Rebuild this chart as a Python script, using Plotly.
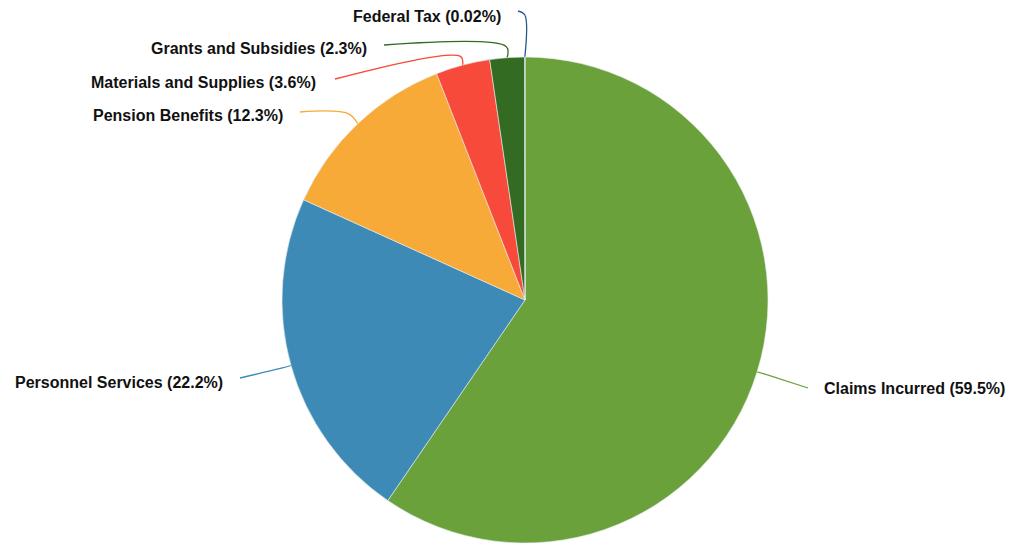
import math
import plotly.graph_objects as go

# page is 1015x544 but the body has an 8px margin, so work in page pixels
W, H = 1015, 544
OFF = 8
FW, FH = W - OFF, H - OFF

# Data
categories = [
    "Claims Incurred",
    "Personnel Services",
    "Pension Benefits",
    "Materials and Supplies",
    "Grants and Subsidies",
    "Federal Tax",
]
shares = [59.5, 22.2, 12.3, 3.6, 2.3, 0.02]
colors = ["#6aa13a", "#3d8ab6", "#f7aa38", "#f74a3a", "#346b22", "#2a5a8c"]

# label placement (page pixels) and leader line ends
label_pos = [(822, 388), (225, 382), (285, 115), (318, 82), (369, 48), (503, 16)]
label_side = ["left", "right", "right", "right", "right", "right"]
line_end = [(808, 388), (240, 378), (300, 112), (335, 79), (384, 45), (518, 11)]
leader_ext = [14, 10, 14, 9, 11, 42]

# pie geometry in page pixels
CX, CY, R = 525, 300, 243

fig = go.Figure()

fig.add_trace(
    go.Pie(
        labels=categories,
        values=shares,
        sort=False,
        direction="clockwise",
        rotation=0,
        textinfo="none",
        hoverinfo="label+percent",
        marker=dict(colors=colors, line=dict(color="#e8eef2", width=0.6)),
        domain=dict(
            x=[(CX - R - OFF) / FW, (CX + R - OFF) / FW],
            y=[(H - CY - R) / FH, (H - CY + R) / FH],
        ),
        showlegend=False,
    )
)

# leader lines start at each slice's mid angle
total = sum(shares)
cum = 0.0
for i, (name, v) in enumerate(zip(categories, shares)):
    mid = (cum + v / 2) / total * 2 * math.pi
    cum += v
    dx, dy = math.sin(mid), -math.cos(mid)
    x0, y0 = CX + R * dx, CY + R * dy
    x1, y1 = CX + (R + leader_ext[i]) * dx, CY + (R + leader_ext[i]) * dy
    ex, ey = line_end[i]
    fig.add_trace(
        go.Scatter(
            x=[x0, x1, ex],
            y=[y0, y1, ey],
            mode="lines",
            line=dict(color=colors[i], width=1.3, shape="spline", smoothing=1.0),
            hoverinfo="skip",
            showlegend=False,
        )
    )
    lx, ly = label_pos[i]
    fig.add_annotation(
        x=lx,
        y=ly,
        xref="x",
        yref="y",
        text=f"<b>{name} ({v:g}%)</b>",
        showarrow=False,
        xanchor=label_side[i],
        yanchor="middle",
        font=dict(family="Liberation Sans, Arial, sans-serif", size=16, color="#111111"),
    )

fig.update_layout(
    width=FW,
    height=FH,
    margin=dict(l=0, r=0, t=0, b=0),
    paper_bgcolor="white",
    plot_bgcolor="rgba(0,0,0,0)",
    xaxis=dict(range=[OFF, W], visible=False, fixedrange=True),
    yaxis=dict(range=[H, OFF], visible=False, fixedrange=True),
)

fig.write_html("out.html")
